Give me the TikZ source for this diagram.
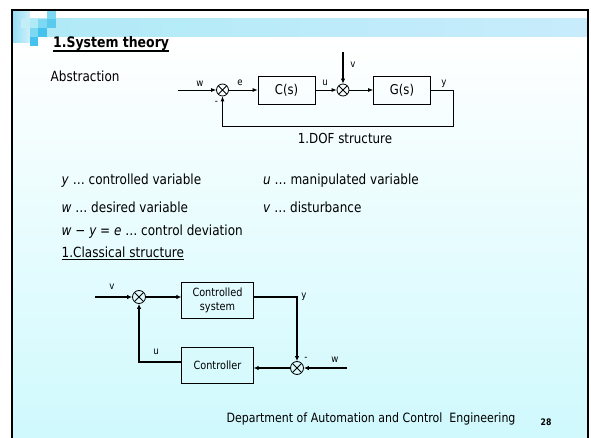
\documentclass[tikz,border=0pt]{standalone}
\usepackage{fontspec}
\setmainfont[FakeStretch=0.86]{DejaVu Sans}
\usetikzlibrary{arrows.meta,calc}
\definecolor{bgc}{RGB}{207,249,253}
\definecolor{bandl}{RGB}{175,234,246}
\definecolor{bandr}{RGB}{200,236,252}
\definecolor{sqa}{RGB}{125,216,242}
\definecolor{sqb}{RGB}{90,203,239}
\definecolor{sqc}{RGB}{69,195,238}
\definecolor{sqd}{RGB}{194,238,248}
\definecolor{sqe}{RGB}{150,222,245}
\definecolor{sqf}{RGB}{208,240,251}
\begin{document}
\begin{tikzpicture}[x=1pt,y=-1pt,
  blk/.style={draw, line width=0.8pt, minimum width=57pt, minimum height=28pt, inner sep=0pt, font=\fontsize{13.5}{14}\selectfont},
  blkb/.style={draw, line width=0.8pt, minimum width=71.5pt, minimum height=36pt, inner sep=0pt, align=center, font=\fontsize{11.3}{13.5}\selectfont},
  sumj/.style={circle, draw, line width=0.8pt, minimum size=12pt, inner sep=0pt,
    path picture={\draw[line width=0.8pt] (path picture bounding box.north west) -- (path picture bounding box.south east)
      (path picture bounding box.south west) -- (path picture bounding box.north east);}},
  lbl/.style={font=\fontsize{10}{10}\selectfont, inner sep=0pt},
  arr/.style={line width=0.8pt, -{Latex[length=5pt,width=4pt]}},
  arrb/.style={line width=1.4pt, -{Latex[length=5pt,width=4.5pt]}},
  body/.style={font=\fontsize{14}{14}\selectfont, anchor=west, inner sep=0pt},
]
\useasboundingbox (0,0) rectangle (591,438);
% slide background
\fill[white] (0,0) rectangle (591,438);
\shade[top color=white, bottom color=bgc] (12,40) rectangle (588,438);
\shade[left color=bandl, right color=bandr] (12,19) rectangle (587,36.5);
% corner squares
\shade[left color=sqe, right color=sqf] (13,11) rectangle (30,43);
\fill[sqd] (21,19) rectangle (30,28);
\fill[sqa] (47,11) rectangle (55.5,19);
\fill[sqa] (38,19) rectangle (47,28);
\fill[sqb] (47,19) rectangle (55.5,28);
\fill[sqa] (30,28) rectangle (38,37);
\fill[sqc] (38,28) rectangle (47,37);
\fill[sqc] (30,37) rectangle (38,46);
% frame
\draw[line width=2.5pt] (12,438) -- (12,10) -- (588,10) -- (588,438);

% title
\node[anchor=west, inner sep=0pt, font=\fontsize{14.5}{15}\selectfont\bfseries] (title) at (53,44) {1.System theory};
\draw[line width=1.3pt] ($(title.base west)+(0,3)$) -- ($(title.base east)+(0,3)$);
\node[body] (abs) at (50.5,76) {Abstraction};

% top diagram
\node[sumj] (s1) at (222.5,90) {};
\node[blk] (C) at (286.5,90) {C(s)};
\node[sumj] (s2) at (343,90) {};
\node[blk] (G) at (402,90) {G(s)};
\coordinate (win) at (178,90);
\coordinate (vin) at (343,52);
\coordinate (yc) at (453,90);
\coordinate (yb) at (453,126);
\coordinate (sb) at (222.5,126);
\draw[arr] (win) -- (s1);
\draw[arr] (s1) -- (C);
\draw[arr] (C) -- (s2);
\draw[line width=1.6pt, -{Latex[length=5pt,width=4.5pt]}] (vin) -- (s2);
\draw[arr] (s2) -- (G);
\draw[arr] (G.east) -- (yc) -- (yb) -- (sb) -- (s1);
\node[lbl] (lw) at (200,84) {w};
\node[lbl] (le) at (240,83) {e};
\node[lbl] (lu) at (325,83) {u};
\node[lbl] (lv) at (353,65) {v};
\node[lbl] (ly) at (444,84) {y};
\node[lbl] (lm) at (216.5,103) {-};
\node[inner sep=0pt, font=\fontsize{13.8}{14}\selectfont] (dof) at (345,138) {1.DOF structure};

% definitions
\node[body] (t1) at (61.5,181) {\textit{y} … controlled variable};
\node[body] (t2) at (263,181) {\textit{u} … manipulated variable};
\node[body] (t3) at (61.5,207.5) {\textit{w} … desired variable};
\node[body] (t4) at (263,207.5) {\textit{v} … disturbance};
\node[body] (t5) at (61.5,231.5) {\textit{w − y = e} … control deviation};
\node[body] (t6) at (61.5,252) {1.Classical structure};
\draw[line width=0.8pt] ($(t6.base west)+(0,2.5)$) -- ($(t6.base east)+(0,2.5)$);

% bottom diagram
\node[sumj, minimum size=13pt] (s3) at (139,297) {};
\node[blkb] (P) at (217.5,300.5) {Controlled\\system};
\node[blkb] (K) at (217.5,365.3) {Controller};
\node[sumj, minimum size=13pt] (s4) at (297,368) {};
\coordinate (vin2) at (95,297);
\coordinate (win2) at (347,368);
\coordinate (yc2) at (297,297);
\coordinate (uc) at (139,362);
\draw[arrb] (vin2) -- (s3);
\draw[arrb] (s3) -- (s3 -| P.west);
\draw[arrb] (P.east |- yc2) -- (yc2) -- (s4);
\draw[arrb] (win2) -- (s4);
\draw[arrb] (s4) -- (s4 -| K.east);
\draw[arrb] (K.west |- uc) -- (uc) -- (s3);
\node[lbl] (lv2) at (112,287) {v};
\node[lbl] (ly2) at (304,297) {y};
\node[lbl] (lu2) at (156,352) {u};
\node[lbl] (lw2) at (335,360) {w};
\node[lbl] (lm2) at (306,359) {-};

% footer
\node[inner sep=0pt, font=\fontsize{12.8}{13}\selectfont] (foot) at (371,419) {Department of Automation and Control\ \ Engineering};
\node[inner sep=0pt, font=\fontsize{9}{9}\selectfont\bfseries] (pg) at (546,422.5) {28};
\end{tikzpicture}
\end{document}
